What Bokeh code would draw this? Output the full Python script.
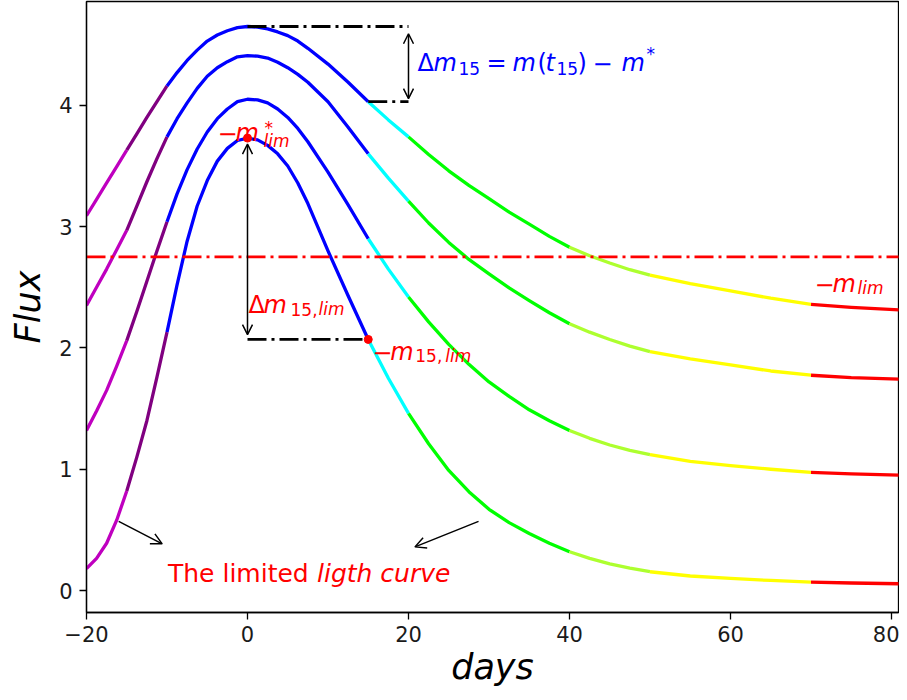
from bokeh.plotting import figure
from bokeh.models import ColumnDataSource, FixedTicker, Arrow, OpenHead
from bokeh.core.properties import value, field
from bokeh.embed import file_html
from bokeh.resources import INLINE

# ---------------- data ----------------
days = [-20, -18.75, -17.5, -16.25, -15, -13.75, -12.5, -11.25, -10, -8.75, -7.5, -6.25, -5, -3.75,
        -2.5, -1.25, 0, 1.25, 2.5, 3.75, 5, 6.25, 7.5, 10, 12.5, 15, 17.5, 20, 22.5, 25, 27.5, 30,
        32.5, 35, 37.5, 40, 42.5, 45, 47.5, 50, 55, 60, 65, 70, 75, 82]

flux_a = [3.09, 3.225, 3.36, 3.495, 3.63, 3.765, 3.90, 4.03, 4.16, 4.27, 4.37, 4.455, 4.53, 4.58,
          4.615, 4.64, 4.65, 4.645, 4.63, 4.605, 4.575, 4.53, 4.47, 4.34, 4.19, 4.03, 3.88, 3.74,
          3.595, 3.46, 3.34, 3.23, 3.12, 3.02, 2.92, 2.83, 2.76, 2.70, 2.645, 2.60, 2.53, 2.47,
          2.41, 2.36, 2.335, 2.31]

flux_b = [2.35, 2.50, 2.65, 2.81, 2.97, 3.17, 3.37, 3.56, 3.74, 3.89, 4.02, 4.14, 4.24, 4.31,
          4.36, 4.40, 4.41, 4.405, 4.39, 4.355, 4.31, 4.255, 4.19, 4.03, 3.82, 3.60, 3.40, 3.21,
          3.03, 2.87, 2.73, 2.61, 2.495, 2.39, 2.29, 2.20, 2.13, 2.07, 2.015, 1.97, 1.91, 1.86,
          1.81, 1.775, 1.755, 1.74]

flux_c = [1.32, 1.48, 1.65, 1.85, 2.06, 2.30, 2.55, 2.80, 3.04, 3.27, 3.47, 3.64, 3.78, 3.89,
          3.97, 4.03, 4.05, 4.045, 4.02, 3.97, 3.90, 3.81, 3.70, 3.45, 3.18, 2.90, 2.65, 2.42,
          2.215, 2.03, 1.865, 1.72, 1.60, 1.49, 1.40, 1.32, 1.255, 1.20, 1.155, 1.12, 1.065, 1.03,
          1.00, 0.975, 0.962, 0.95]

flux_d = [0.18, 0.265, 0.39, 0.58, 0.82, 1.10, 1.40, 1.76, 2.13, 2.52, 2.88, 3.17, 3.38, 3.54,
          3.645, 3.71, 3.73, 3.715, 3.67, 3.60, 3.50, 3.36, 3.19, 2.80, 2.43, 2.07, 1.75, 1.46,
          1.21, 0.99, 0.815, 0.67, 0.56, 0.47, 0.39, 0.32, 0.265, 0.22, 0.185, 0.155, 0.12, 0.10,
          0.083, 0.07, 0.062, 0.055]

m_lim = 2.75
t15 = 15
t_peak = 0
t_end = 20

# colour phases along the light curve (day boundaries)
breaks = [-20, -15, -10, 15, 20, 40, 50, 70, 82]
seg_colors = ["#bf00bf", "#800080", "#0000ff", "#00ffff", "#00ff00", "#adff2f", "#ffff00", "#ff0000"]

x_ticks = [-20, 0, 20, 40, 60, 80]
y_ticks = [0, 1, 2, 3, 4]

# ---------------- figure ----------------
p = figure(width=899, height=692, x_range=(-20, 80.87), y_range=(-0.181, 4.856),
           output_backend="svg", toolbar_location=None,
           min_border_left=86, min_border_right=1, min_border_top=1, min_border_bottom=80)
p.title.visible = False
p.xgrid.visible = False
p.ygrid.visible = False
p.outline_line_color = "black"
p.outline_line_width = 1.3
p.background_fill_color = "white"
p.border_fill_color = "white"

p.xaxis.ticker = FixedTicker(ticks=x_ticks)
p.yaxis.ticker = FixedTicker(ticks=y_ticks)
p.xaxis.major_label_overrides = {t: (str(t).replace("-", "\u2212")) for t in x_ticks}
p.xaxis.axis_label = "days"
p.yaxis.axis_label = "Flux"
for ax in (p.xaxis[0], p.yaxis[0]):
    ax.major_tick_out = 7
    ax.major_tick_in = 0
    ax.minor_tick_out = 0
    ax.minor_tick_in = 0
    ax.major_tick_line_width = 1.3
    ax.axis_line_width = 1.3
    ax.axis_line_color = "black"
    ax.major_tick_line_color = "black"
    ax.major_label_text_font = "DejaVu Sans"
    ax.major_label_text_font_size = "21px"
    ax.major_label_text_color = "#1a1a1a"
    ax.axis_label_text_font = "DejaVu Sans"
    ax.axis_label_text_font_style = "italic"
    ax.axis_label_text_font_size = "35px"
    ax.axis_label_text_color = "black"
p.xaxis.major_label_standoff = 6
p.xaxis.axis_label_standoff = 2
p.yaxis.major_label_standoff = 7
p.yaxis.axis_label_standoff = 8

# ---------------- colour-coded light curves ----------------
xs, ys, cs = [], [], []
for flux in (flux_a, flux_b, flux_c, flux_d):
    for i, col in enumerate(seg_colors):
        lo, hi = breaks[i], breaks[i + 1]
        idx = [k for k, d in enumerate(days) if lo <= d <= hi]
        xs.append([days[k] for k in idx])
        ys.append([flux[k] for k in idx])
        cs.append(col)
p.multi_line(xs="xs", ys="ys", line_color="cs", line_width=3.3, line_join="round",
             source=ColumnDataSource(dict(xs=xs, ys=ys, cs=cs)))

# limiting magnitude line
p.line([days[0], days[-1]], [m_lim, m_lim], line_color="red", line_width=2.8, line_dash="19 5 3 5")

i0 = days.index(t_peak)
i15 = days.index(t15)
i20 = days.index(t_end)

# dash-dot guides
dd = dict(line_color="black", line_width=2.8, line_dash="19 5 3 5")
p.line([days[i0], days[i20]], [flux_a[i0], flux_a[i0]], **dd)
p.line([days[i15], days[i20]], [flux_a[i15], flux_a[i15]], **dd)
p.line([days[i0], days[i15]], [flux_d[i15], flux_d[i15]], **dd)

# red points
p.scatter([days[i0], days[i15]], [flux_d[i0], flux_d[i15]], size=8, color="red")

# arrows
def head(size=10):
    return OpenHead(size=size, line_width=1.5, line_color="black")

p.add_layout(Arrow(x_start=days[i20], y_start=flux_a[i0] - 0.06, x_end=days[i20], y_end=flux_a[i15] + 0.025,
                   start=head(), end=head(), line_width=1.5, line_color="black"))
p.add_layout(Arrow(x_start=days[i0], y_start=flux_d[i0] - 0.05, x_end=days[i0], y_end=flux_d[i15] + 0.04,
                   start=head(), end=head(), line_width=1.5, line_color="black"))
p.add_layout(Arrow(x_start=-16.0, y_start=0.57, x_end=-10.6, y_end=0.385,
                   end=head(11), line_width=1.5, line_color="black"))
p.add_layout(Arrow(x_start=28.7, y_start=0.57, x_end=20.8, y_end=0.36,
                   end=head(11), line_width=1.5, line_color="black"))

# ---------------- math-like labels built from pieces ----------------
def math_text(x0, y0, pieces, color):
    src = ColumnDataSource(dict(
        x=[x0] * len(pieces), y=[y0] * len(pieces),
        text=[pc[0] for pc in pieces], dx=[pc[1] for pc in pieces], dy=[pc[2] for pc in pieces],
        size=[f"{pc[3]}px" for pc in pieces], style=[pc[4] for pc in pieces]))
    p.text(x="x", y="y", text="text", source=src, x_offset=field("dx"), y_offset=field("dy"),
           text_font=value("DejaVu Sans"), text_font_size=field("size"), text_font_style=field("style"),
           text_color=color, text_baseline="alphabetic", text_align="left")

math_text(20, 4.353, [("Δ", 9, 0, 24, "normal"), ("m", 25, 0, 24, "italic"), ("15", 50, 6, 17, "normal"),
                      ("=", 78, 0, 24, "normal"), ("m", 104, 0, 24, "italic"), ("(", 129, 0, 24, "normal"),
                      ("t", 137, 0, 24, "italic"), ("15", 148, 6, 17, "normal"), (")", 169, 0, 24, "normal"),
                      ("\u2212", 184, 0, 24, "normal"), ("m", 213, 0, 24, "italic"), ("*", 238, -9, 17, "normal")],
          "#0000ff")

math_text(0, 3.776, [("\u2212", -30, 0, 24, "normal"), ("m", -12, 0, 24, "italic"),
                     ("*", 17, -5, 17, "normal"), ("lim", 16, 8, 17, "italic")], "red")

math_text(80, 2.523, [("\u2212", -77, 0, 24, "normal"), ("m", -59, 0, 24, "italic"),
                      ("lim", -34, 4, 17, "italic")], "red")

math_text(0, 2.35, [("Δ", 1, 0, 24, "normal"), ("m", 16, 0, 24, "italic"),
                    ("15,", 43, 4, 17, "normal"), ("lim", 71, 4, 17, "italic")], "red")

math_text(15, 1.97, [("\u2212", 4, 0, 24, "normal"), ("m", 22, 0, 24, "italic"),
                     ("15,", 47, 4, 17, "normal"), ("lim", 77, 4, 17, "italic")], "red")

math_text(-10, 0.14, [("The limited", 1, 0, 25, "normal"), ("ligth curve", 150, 0, 25, "italic")], "red")

open("out.html", "w").write(file_html(p, INLINE))
